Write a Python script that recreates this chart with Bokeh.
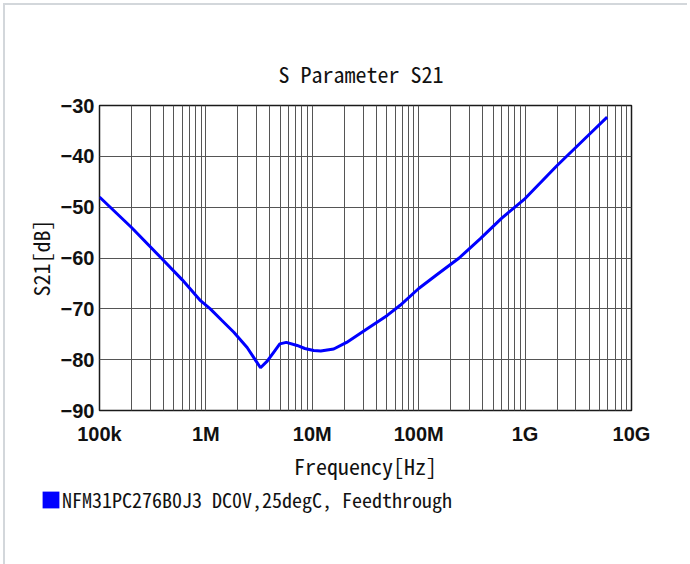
from bokeh.plotting import figure
from bokeh.models import (FixedTicker, CustomJSTickFormatter, Range1d,
                          Legend, LegendItem)
from bokeh.layouts import column
from bokeh.embed import file_html
from bokeh.resources import INLINE

# ---- data ----
freq_hz = [1e5, 2e5, 3.8e5, 6e5, 8.9e5, 1.1e6, 1.4e6, 1.83e6, 2.44e6, 2.8e6,
           3.26e6, 3.77e6, 4.35e6, 4.95e6, 5.7e6, 7.2e6, 8.5e6, 1.03e7, 1.2e7,
           1.59e7, 2.1e7, 3.28e7, 5.06e7, 6.7e7, 1.0e8, 1.5e8, 2.4e8, 3.8e8,
           6.0e8, 1.0e9, 2.0e9, 4.0e9, 5.9e9]
s21_db = [-48.0, -54.0, -60.0, -64.3, -68.4, -70.0, -72.2, -74.6, -77.6, -79.5,
          -81.6, -80.3, -78.5, -76.9, -76.6, -77.2, -77.8, -78.2, -78.3,
          -77.9, -76.6, -73.9, -71.3, -69.3, -66.0, -63.2, -60.0, -56.2,
          -52.2, -48.3, -41.8, -35.7, -32.3]

x_major_ticks = [1e5, 1e6, 1e7, 1e8, 1e9, 1e10]
x_tick_labels = ["100k", "1M", "10M", "100M", "1G", "10G"]
x_minor_ticks = [k * d for d in [1e5, 1e6, 1e7, 1e8, 1e9] for k in range(2, 10)]
y_ticks = [-90, -80, -70, -60, -50, -40, -30]

title_text = "S Parameter S21"
x_label_text = "Frequency[Hz]"
y_label_text = "S21[dB]"
legend_text = "NFM31PC276B0J3 DC0V,25degC, Feedthrough"
legend_swatch_x = [0.0]
legend_swatch_y = [0.0]

MONO = "'Noto Sans Mono CJK JP', 'Liberation Mono', monospace"
SANS = "'Liberation Sans', Arial, sans-serif"

p = figure(width=682, height=481, x_axis_type="log",
           x_range=Range1d(1e5, 1e10), y_range=Range1d(-90, -30),
           output_backend="svg", toolbar_location=None,
           min_border_left=94, min_border_right=56,
           min_border_top=100, min_border_bottom=76)
p.background_fill_color = "white"
p.border_fill_color = "white"
p.outline_line_color = "#1a1a1a"
p.outline_line_width = 1.5

p.line(freq_hz, s21_db, line_color="#0000ff", line_width=3)

# title
p.title.text = title_text
p.title.align = "left"
p.title.offset = 179
p.title.text_font = MONO
p.title.text_font_size = "22px"
p.title.text_font_style = "normal"
p.title.text_color = "#111111"
p.title.standoff = 34

# axes
xa = p.xaxis[0]
xa.ticker = FixedTicker(ticks=x_major_ticks, minor_ticks=x_minor_ticks)
xa.formatter = CustomJSTickFormatter(
    args=dict(labels=x_tick_labels),
    code="return labels[Math.round(Math.log10(tick)) - 5];")
ya = p.yaxis[0]
ya.ticker = FixedTicker(ticks=y_ticks)
ya.formatter = CustomJSTickFormatter(
    code="return tick < 0 ? '\u2212' + Math.abs(tick) : String(tick);")
for ax in (xa, ya):
    ax.axis_line_color = None
    ax.major_tick_line_color = None
    ax.minor_tick_line_color = None
    ax.major_tick_in = 0
    ax.major_tick_out = 0
    ax.minor_tick_in = 0
    ax.minor_tick_out = 0
    ax.major_label_text_font = SANS
    ax.major_label_text_font_size = "20px"
    ax.major_label_text_font_style = "bold"
    ax.major_label_text_color = "#111111"
    ax.axis_label_text_font = MONO
    ax.axis_label_text_font_size = "22px"
    ax.axis_label_text_font_style = "normal"
    ax.axis_label_text_color = "#111111"
xa.major_label_standoff = 12
ya.major_label_standoff = 5
xa.axis_label = x_label_text
ya.axis_label = y_label_text
xa.axis_label_standoff = 1
ya.axis_label_standoff = 2

p.xgrid.grid_line_color = "#555555"
p.xgrid.grid_line_width = 1
p.xgrid.minor_grid_line_color = "#555555"
p.xgrid.minor_grid_line_width = 1
p.ygrid.grid_line_color = "#555555"
p.ygrid.grid_line_width = 1

# legend strip below the chart
strip = figure(width=682, height=78, x_range=Range1d(0, 1), y_range=Range1d(0, 1),
               x_axis_location=None, y_axis_location=None,
               output_backend="svg", toolbar_location=None,
               min_border=0, outline_line_color=None)
for fig in (p, strip):
    try:
        fig.frame_align = False
    except Exception:
        pass
strip.xgrid.visible = False
strip.ygrid.visible = False
strip.border_fill_color = "white"
swatch = strip.quad(left=legend_swatch_x, right=legend_swatch_x,
                    top=legend_swatch_y, bottom=legend_swatch_y,
                    fill_color="#0000ff", fill_alpha=1, line_color=None,
                    visible=False)
legend = Legend(items=[LegendItem(label=legend_text, renderers=[swatch])],
                location=(35, 50), orientation="horizontal",
                margin=0, padding=0, spacing=0,
                glyph_width=21, glyph_height=21, label_standoff=1,
                label_text_font=MONO, label_text_font_size="20px",
                label_text_color="#111111", label_height=27,
                inactive_fill_alpha=0,
                border_line_color=None, background_fill_alpha=0)
strip.add_layout(legend)

page = column(p, strip, spacing=0,
              styles={"border-top": "2px solid #d3d7db",
                      "border-left": "2px solid #d3d7db",
                      "margin-top": "3px", "margin-left": "3px"})

open("out.html", "w").write(file_html(page, INLINE))
